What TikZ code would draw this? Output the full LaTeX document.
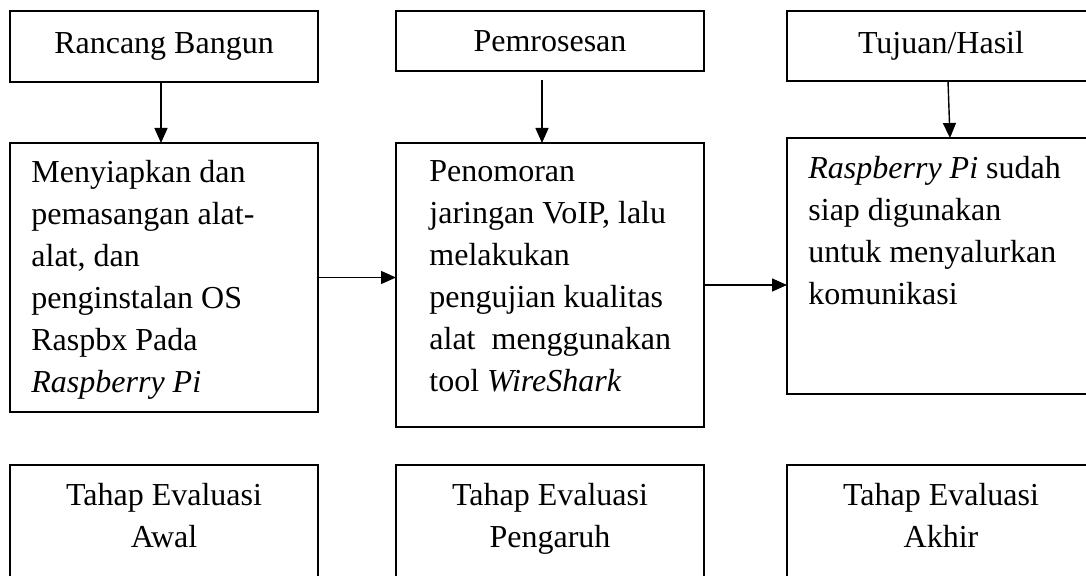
\documentclass[tikz,border=0pt]{standalone}
\usepackage{fontspec}
\setmainfont{Liberation Serif}
\usetikzlibrary{arrows.meta,positioning}

\tikzset{
  kotak/.style={draw,line width=0.75pt,inner sep=0pt,outer sep=0pt,anchor=north west,minimum width=154pt},
  judul/.style={font=\fontsize{16}{21}\selectfont,align=center},
  isi/.style={inner sep=0pt,anchor=north west,align=left,font=\fontsize{16}{21}\selectfont},
  panah/.style={line width=0.7pt,-{Triangle[length=7.5pt,width=6.5pt]}}
}

\begin{document}
\begin{tikzpicture}[x=0.5pt,y=-0.5pt]
            \useasboundingbox (0,0) rectangle (1086,576);
            \clip (0,0) rectangle (1086,576);
            % baris atas
            \node[kotak,judul,minimum height=35.5pt] (rancang) at (10,11) {Rancang Bangun};
            \node[kotak,judul,minimum height=30pt] (proses) at (396,11) {Pemrosesan};
            \node[kotak,judul,minimum height=35pt] (tujuan) at (787,11) {Tujuan/Hasil};
            % baris tengah
            \node[kotak,minimum height=134.5pt] (siap) at (10,143) {};
            \node[isi] (siapteks) at ([shift={(21,17)}]siap.north west) {Menyiapkan dan\\pemasangan alat-\\alat, dan\\penginstalan OS\\Raspbx Pada\\\textit{Raspberry Pi}};
            \node[kotak,minimum height=142pt] (uji) at (396,143) {};
            \node[isi] (ujiteks) at ([shift={(33,17)}]uji.north west) {Penomoran\\jaringan VoIP, lalu\\melakukan\\pengujian kualitas\\alat\ \ menggunakan\\tool \textit{WireShark}};
            \node[kotak,minimum height=128pt] (hasil) at (787,138) {};
            \node[isi] (hasilteks) at ([shift={(21,18)}]hasil.north west) {\textit{Raspberry Pi} sudah\\siap digunakan\\untuk menyalurkan\\komunikasi};
            % baris bawah
            \node[kotak,minimum height=70pt] (awal) at (10,465) {};
            \node[judul,inner sep=0pt,anchor=north] (awalteks) at ([yshift=-9pt]awal.north) {Tahap Evaluasi\\Awal};
            \node[kotak,minimum height=70pt] (pengaruh) at (396,465) {};
            \node[judul,inner sep=0pt,anchor=north] (pengaruhteks) at ([yshift=-9pt]pengaruh.north) {Tahap Evaluasi\\Pengaruh};
            \node[kotak,minimum height=70pt] (akhir) at (787,465) {};
            \node[judul,inner sep=0pt,anchor=north] (akhirteks) at ([yshift=-9pt]akhir.north) {Tahap Evaluasi\\Akhir};
            % panah
            \draw[panah] ([xshift=-1.5pt]rancang.south) -- ([xshift=-1.5pt]siap.north);
            \draw[panah] ([shift={(-8,9)}]proses.south) -- ([xshift=-4pt]uji.north);
            \draw[panah] ([xshift=3.5pt]tujuan.south) -- ([xshift=4.5pt]hasil.north);
            \draw[panah] (siap.east) -- (siap.east -| uji.west);
            \draw[panah] (uji.east) -- (uji.east -| hasil.west);
        \end{tikzpicture}
\end{document}
